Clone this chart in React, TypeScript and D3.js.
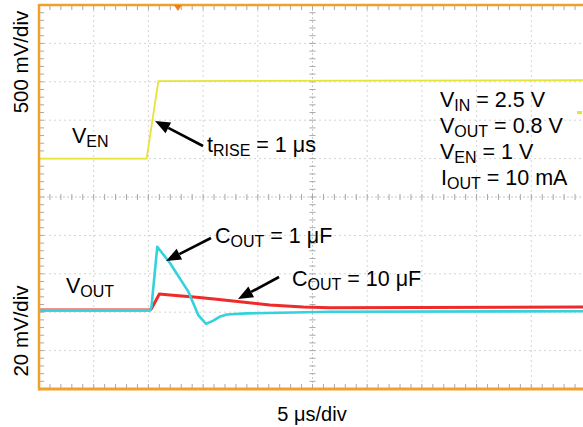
import React from "react";
import * as d3 from "d3";

// ---- data ----
// time in µs (0 = left edge, 5 µs/div, 10 div)
const venTime = [0, 9.84, 10.91, 30, 50];
const venVolts = [0, 0, 1.01, 1.015, 1.02];

const cyanTime = [0, 10.15, 10.28, 10.81, 11.97, 13.65, 14.56, 15.27, 15.93, 16.5, 17.16, 18.98, 22.03, 26.6, 50];
const cyanMv = [1.0, 1.0, 2.7, 34.1, 25.6, 10.7, -1.5, -6.1, -4.4, -2.4, -1.2, -0.6, -0.3, 0.2, 0.5];

const redTime = [0, 10.15, 10.3, 11.0, 11.97, 14.41, 16.24, 18.37, 21.1, 24.16, 26.6, 34.8, 50];
const redMv = [1.1, 1.15, 2.0, 9.5, 9.0, 7.8, 6.7, 5.5, 3.75, 2.7, 2.3, 2.5, 2.7];

const ch1MarkerVolts = 0.6;
const triggerTime = 12.7;

const timeDomain = [0, 50];
const venDomain = [-3, 2]; // V, 500 mV/div
const voutDomain = [-40, 160]; // mV, 20 mV/div
const xDivs = 10;
const yDivs = 10;
const minorPerDiv = 5;

const W = 583;
const H = 427;
const L = 39, R = 586, T = 5, B = 389;

const ORANGE = "#f2a02c";
const FONT = "'Liberation Sans', Arial, Helvetica, sans-serif";

function Arrow({ x1, y1, x2, y2 }: { x1: number; y1: number; x2: number; y2: number }) {
  const ang = Math.atan2(y2 - y1, x2 - x1);
  const len = 15, hw = 6;
  const bx = x2 - len * Math.cos(ang), by = y2 - len * Math.sin(ang);
  const px = -Math.sin(ang) * hw, py = Math.cos(ang) * hw;
  return (
    <g>
      <line x1={x1} y1={y1} x2={bx} y2={by} stroke="#000" strokeWidth={2.6} />
      <polygon points={`${x2},${y2} ${bx + px},${by + py} ${bx - px},${by - py}`} fill="#000" />
    </g>
  );
}

function Label({ x, y, main, sub, rest, size = 21.5, subSize = 16 }: any) {
  return (
    <text x={x} y={y} fontFamily={FONT} fontSize={size} fill="#000">
      <tspan>{main}</tspan>
      <tspan dy={4} fontSize={subSize}>{sub}</tspan>
      <tspan dy={-4}>{rest}</tspan>
    </text>
  );
}

export default function App() {
  const x = d3.scaleLinear().domain(timeDomain).range([L, R]);
  const yEn = d3.scaleLinear().domain(venDomain).range([B, T]);
  const yOut = d3.scaleLinear().domain(voutDomain).range([B, T]);

  const gx = d3.scaleLinear().domain([0, xDivs]).range([L, R]);
  const gy = d3.scaleLinear().domain([0, yDivs]).range([T, B]);

  const venLine = d3.line<number>().x((_, i) => x(venTime[i])).y((d) => yEn(d))(venVolts) || "";
  const cyanLine = d3.line<number>().x((_, i) => x(cyanTime[i])).y((d) => yOut(d))(cyanMv) || "";
  const redLine = d3.line<number>().x((_, i) => x(redTime[i])).y((d) => yOut(d))(redMv) || "";

  const cx = gx(xDivs / 2);
  const cy = gy(yDivs / 2);

  const grid: JSX.Element[] = [];
  for (let i = 1; i < xDivs; i++) {
    if (i === xDivs / 2) continue;
    grid.push(<line key={"gx" + i} x1={gx(i)} x2={gx(i)} y1={T} y2={B} stroke="#d4d4d4" strokeWidth={1} strokeDasharray="2,3" />);
  }
  for (let j = 1; j < yDivs; j++) {
    if (j === yDivs / 2) continue;
    grid.push(<line key={"gy" + j} y1={gy(j)} y2={gy(j)} x1={L} x2={R} stroke="#d4d4d4" strokeWidth={1} strokeDasharray="2,3" />);
  }
  // center crosshair
  grid.push(<line key="cxl" x1={cx} x2={cx} y1={T} y2={B} stroke="#c8c8c8" strokeWidth={1} strokeDasharray="2,2" />);
  grid.push(<line key="cyl" y1={cy} y2={cy} x1={L} x2={R} stroke="#c8c8c8" strokeWidth={1} strokeDasharray="2,2" />);

  const ticks: JSX.Element[] = [];
  for (let k = 1; k < xDivs * minorPerDiv; k++) {
    const xx = gx(k / minorPerDiv);
    ticks.push(<line key={"tt" + k} x1={xx} x2={xx} y1={T} y2={T + 5} stroke="#a8a8a8" strokeWidth={1} />);
    ticks.push(<line key={"tb" + k} x1={xx} x2={xx} y1={B} y2={B - 5} stroke="#a8a8a8" strokeWidth={1} />);
    ticks.push(<line key={"tc" + k} x1={xx} x2={xx} y1={cy - 3} y2={cy + 3} stroke="#a8a8a8" strokeWidth={1} />);
  }
  for (let k = 1; k < yDivs * minorPerDiv; k++) {
    const yy = gy(k / minorPerDiv);
    ticks.push(<line key={"tl" + k} x1={L} x2={L + 5} y1={yy} y2={yy} stroke="#a8a8a8" strokeWidth={1} />);
    ticks.push(<line key={"tv" + k} x1={cx - 3} x2={cx + 3} y1={yy} y2={yy} stroke="#a8a8a8" strokeWidth={1} />);
  }

  return (
    <svg width={W} height={H} style={{ position: "fixed", left: 0, top: 0, background: "#fff" }}>
      <rect x={0} y={0} width={W} height={H} fill="#fff" />
      {grid}
      {ticks}
      {/* traces */}
      <path d={venLine} fill="none" stroke="#e4e43a" strokeWidth={1.8} />
      <path d={redLine} fill="none" stroke="#ee2a2a" strokeWidth={3} strokeLinejoin="round" />
      <path d={cyanLine} fill="none" stroke="#33d2dc" strokeWidth={2.6} strokeLinejoin="round" />

      {/* frame */}
      <line x1={L} x2={L} y1={T - 1} y2={B + 1.5} stroke={ORANGE} strokeWidth={2.5} />
      <line x1={L} x2={R} y1={T} y2={T} stroke={ORANGE} strokeWidth={2.5} />
      <line x1={L} x2={R} y1={B} y2={B} stroke={ORANGE} strokeWidth={3} />
      {/* trigger marker */}
      <polygon points={`${x(triggerTime) - 4},${T} ${x(triggerTime) + 4},${T} ${x(triggerTime)},${T + 6}`} fill="#f07f1a" />
      {/* ch1 marker at right */}
      <rect x={577} y={yEn(ch1MarkerVolts) - 1.5} width={5} height={3} fill="#e4e43a" />

      {/* axis labels */}
      <text transform={`translate(28,62) rotate(-90)`} textAnchor="middle" fontFamily={FONT} fontSize={20.5}>500 mV/div</text>
      <text transform={`translate(28,331) rotate(-90)`} textAnchor="middle" fontFamily={FONT} fontSize={20.5}>20 mV/div</text>
      <text x={312} y={421} textAnchor="middle" fontFamily={FONT} fontSize={20}>5 μs/div</text>

      {/* annotations */}
      <Label x={72} y={143} main="V" sub="EN" rest="" />
      <Label x={66} y={293} main="V" sub="OUT" rest="" />
      <Label x={207} y={152} main="t" sub="RISE" rest=" = 1 μs" />
      <Label x={215} y={243} main="C" sub="OUT" rest=" = 1 μF" />
      <Label x={292} y={286} main="C" sub="OUT" rest=" = 10 μF" />

      <Label x={440} y={107} main="V" sub="IN" rest=" = 2.5 V" />
      <Label x={440} y={133} main="V" sub="OUT" rest=" = 0.8 V" />
      <Label x={440} y={159} main="V" sub="EN" rest=" = 1 V" />
      <Label x={441} y={185} main="I" sub="OUT" rest=" = 10 mA" />

      <Arrow x1={203} y1={146} x2={155} y2={121} />
      <Arrow x1={211} y1={238} x2={166} y2={261} />
      <Arrow x1={279} y1={277} x2={238} y2={299} />
    </svg>
  );
}
